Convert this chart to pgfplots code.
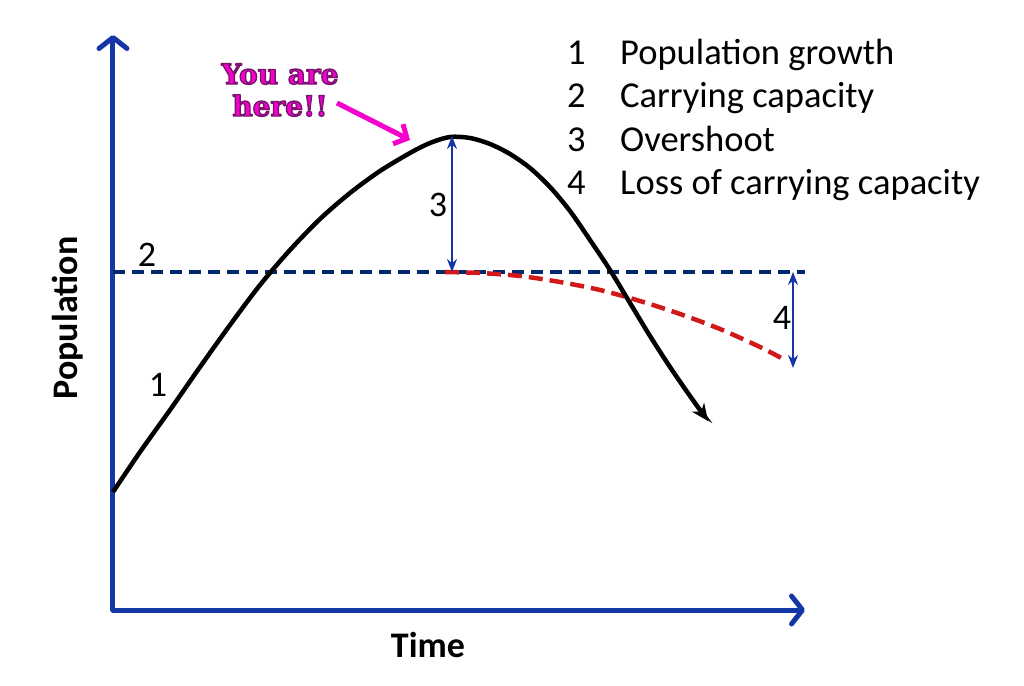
\documentclass[border=0pt]{standalone}
\usepackage{pgfplots}
\pgfplotsset{compat=1.18}
\usepackage{fontspec}
\setmainfont{Carlito}
\newfontfamily\funfont{DejaVu Serif}
\usetikzlibrary{arrows.meta}
\definecolor{axblue}{RGB}{20,55,165}
\definecolor{capblue}{RGB}{0,40,110}
\definecolor{lossred}{RGB}{210,25,25}
\definecolor{herepink}{RGB}{245,0,205}
\begin{document}
\begin{tikzpicture}
\begin{axis}[
    x=1pt, y=1pt,
    xmin=113, xmax=805,
    ymin=0, ymax=575,
    clip=false,
    axis lines=left,
    axis line style={axblue, line width=5pt, line cap=round,
        -{Straight Barb[length=11pt,width=28pt,line width=5pt,round]}},
    ticks=none,
    xlabel={\bfseries Time},
    ylabel={\bfseries Population},
    every axis x label/.style={at={(axis cs:428,-35)}, anchor=center,
        font=\fontsize{36}{40}\selectfont},
    every axis y label/.style={at={(axis cs:68,292)}, anchor=center, rotate=90,
        font=\fontsize{36}{40}\selectfont},
]
% carrying capacity
\addplot[capblue, line width=3.5pt, dash pattern=on 12pt off 7pt]
    coordinates {(113,338) (805,338)};
% loss of carrying capacity
\addplot[lossred, line width=4.5pt, dash pattern=on 14pt off 7pt, smooth]
    coordinates {(445,338) (480,337) (520,334) (560,328) (600,320) (640,309)
                 (680,296) (720,281) (760,263) (785,250)};
% population
\addplot[black, line width=4.5pt, smooth, -{Stealth[length=17pt,width=15pt]}]
    coordinates {(113,118) (140,158) (170,200) (200,243) (230,285) (260,325)
                 (290,360) (320,391) (350,417) (380,439) (410,457) (430,467)
                 (450,473) (470,472) (490,466) (510,456) (530,442) (550,423)
                 (570,399) (590,370) (610,340) (630,307) (650,274) (670,243)
                 (690,214) (708,189)};
% overshoot and loss arrows
\addplot[axblue, line width=2.5pt, {Stealth[length=13pt,width=10pt]}-{Stealth[length=13pt,width=10pt]}]
    coordinates {(452,474) (452,338)};
\addplot[axblue, line width=2.5pt, {Stealth[length=13pt,width=10pt]}-{Stealth[length=13pt,width=10pt]}]
    coordinates {(793,338) (793,242)};
% you are here arrow
\addplot[herepink, line width=5pt, -{Straight Barb[length=10pt,width=22pt,line width=5pt]}]
    coordinates {(337,507) (410,470)};

\begin{scope}[every node/.style={font=\fontsize{36}{40}\selectfont}]
\node at (axis cs:158,225) {1};
\node at (axis cs:147,355) {2};
\node at (axis cs:438,405) {3};
\node at (axis cs:782,292) {4};
\end{scope}

\begin{scope}[every node/.style={font=\fontsize{36.5}{40}\selectfont, anchor=base west, inner sep=0pt}]
\node at (axis cs:567,545) {1};
\node at (axis cs:567,502) {2};
\node at (axis cs:567,458) {3};
\node at (axis cs:567,415) {4};
\node at (axis cs:620,545) {Population growth};
\node at (axis cs:620,502) {Carrying capacity};
\node at (axis cs:620,458) {Overshoot};
\node at (axis cs:620,415) {Loss of carrying capacity};
\end{scope}

% outlined "You are here!!" (fill + stroke text render mode)
\node[herepink, align=center, font=\funfont\bfseries\fontsize{28}{32}\selectfont]
    at (axis cs:280,520)
    {\special{pdf:literal 0.47 0.08 0.43 RG 1.4 w 1 j 2 Tr}You are\\here!!};

\coordinate (BL) at (axis cs:0,-75);
\coordinate (TR) at (axis cs:1024,610);
\end{axis}
\pgfresetboundingbox
\path (BL) rectangle (TR);
\end{tikzpicture}
\end{document}
